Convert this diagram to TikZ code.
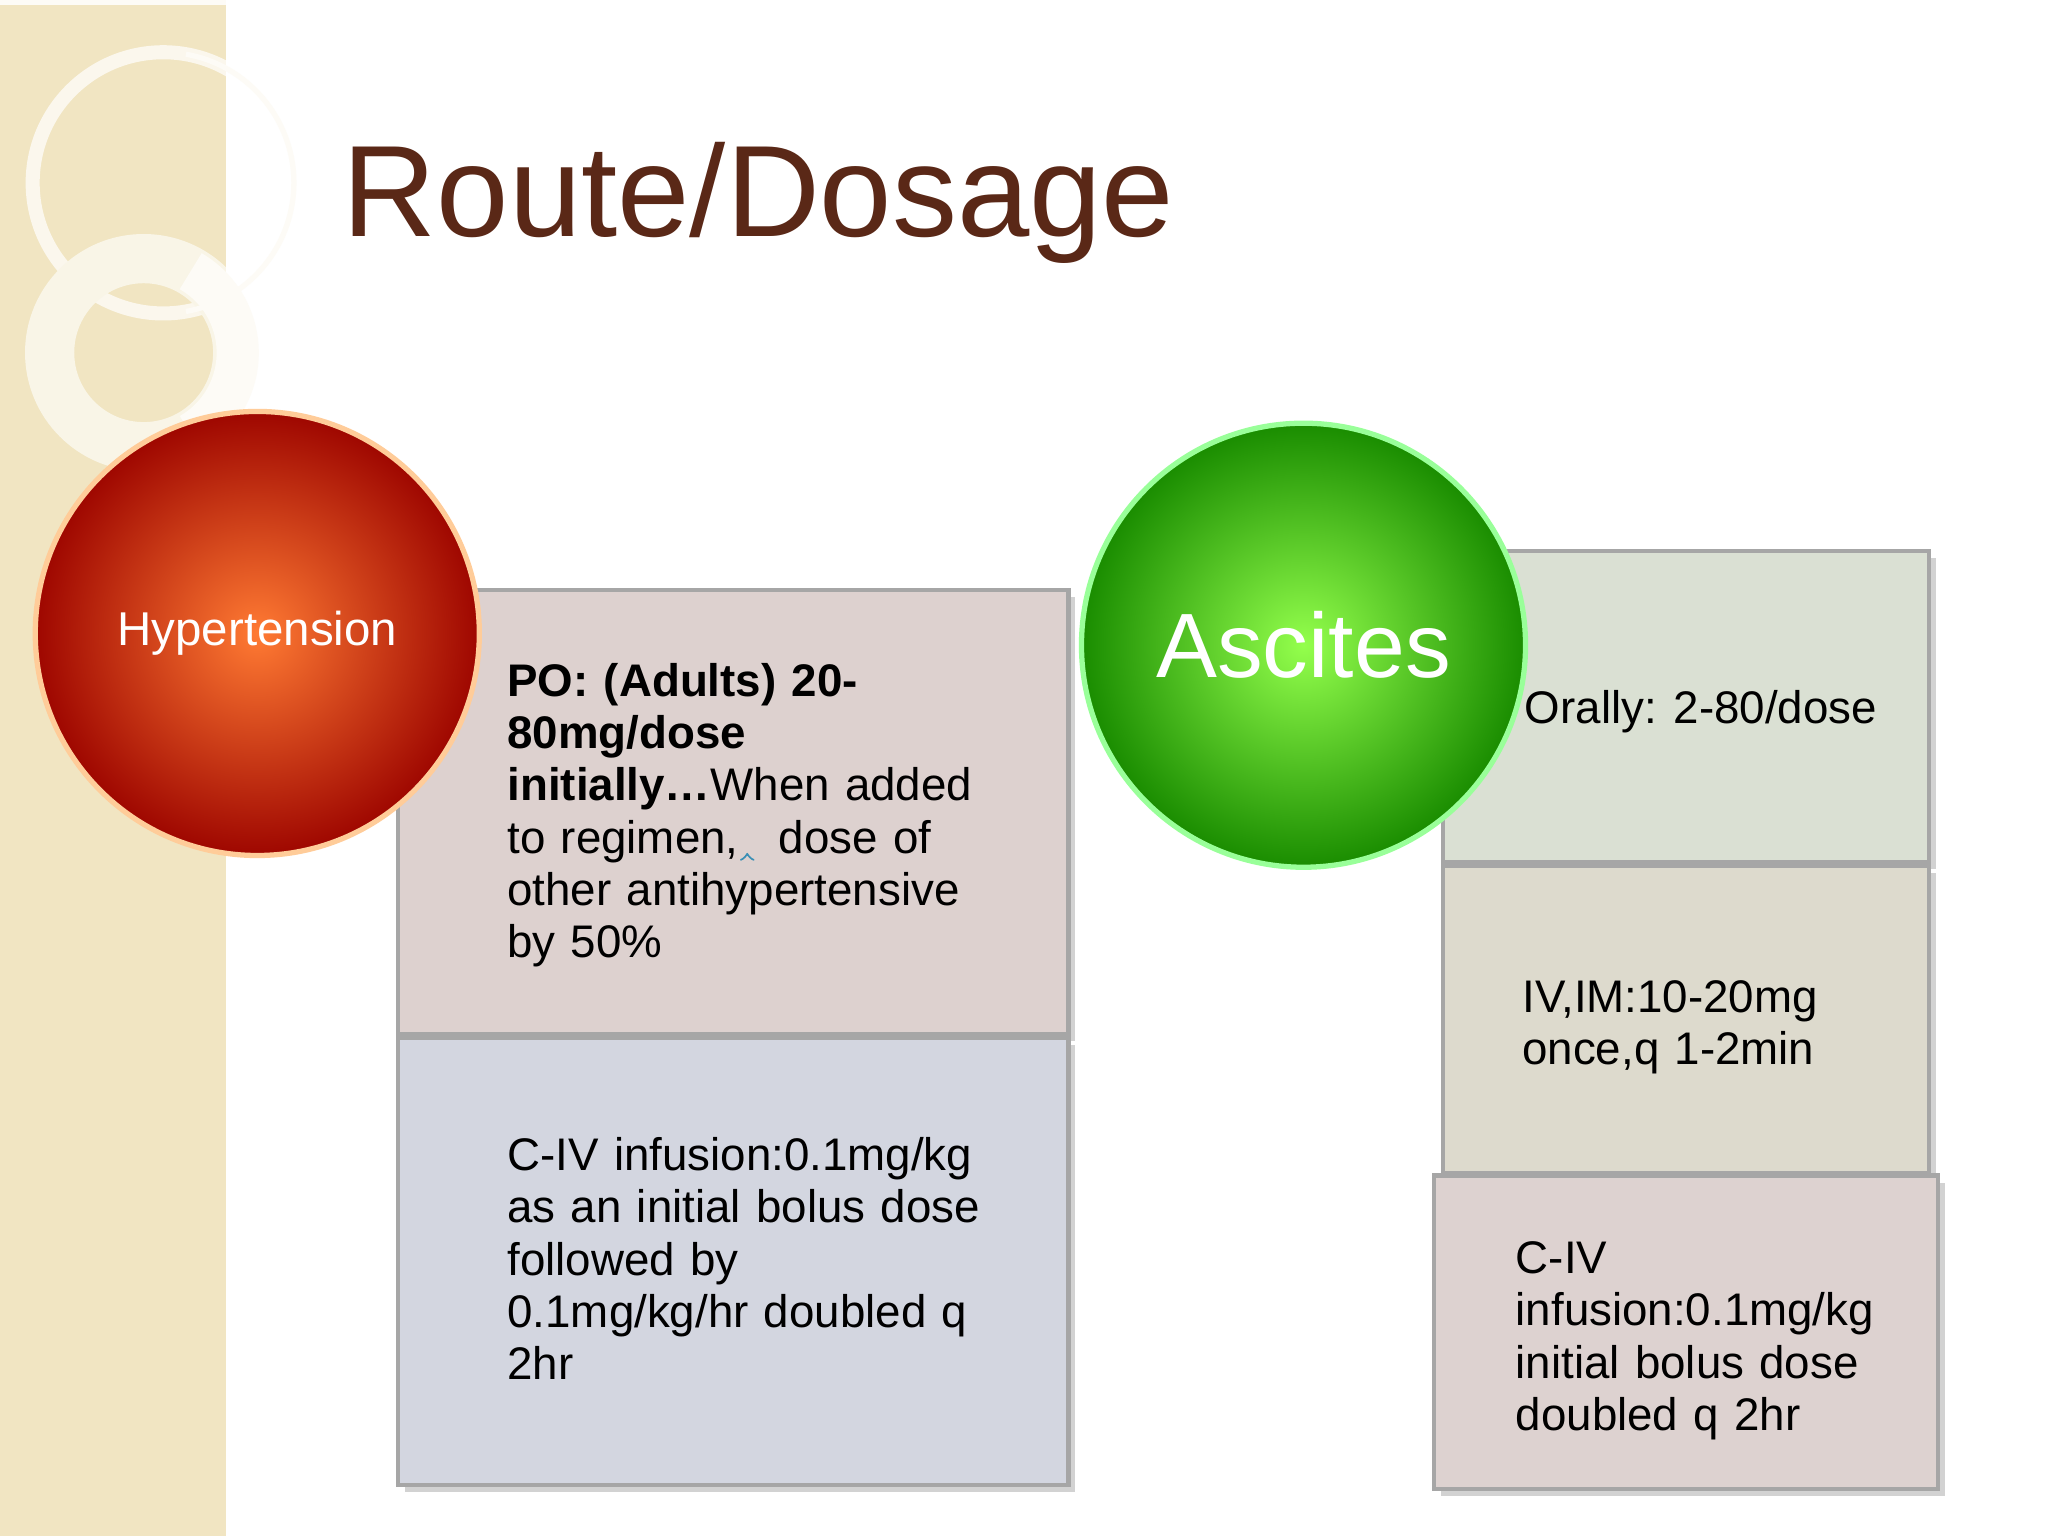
\documentclass[tikz,border=0pt]{standalone}
\usepackage{fontspec}
\setmainfont{Liberation Sans}
\usetikzlibrary{shadows}
\definecolor{strip}{HTML}{F1E5C2}
\definecolor{titlec}{HTML}{5A2817}
\definecolor{boxa}{HTML}{DDD1CF}
\definecolor{boxb}{HTML}{D3D6E0}
\definecolor{boxc}{HTML}{DAE0D3}
\definecolor{boxd}{HTML}{DDDACD}
\definecolor{boxe}{HTML}{DDD2D0}
\definecolor{arrowc}{HTML}{3A8FB5}
\tikzset{
 panel/.style={draw=gray!70, line width=1.2pt, drop shadow={opacity=0.35,shadow xshift=2pt,shadow yshift=-2pt}},
 btext/.style={anchor=base west, inner sep=0, align=left, font=\fontsize{13}{14.9}\selectfont},
}
\begin{document}
\begin{tikzpicture}[x=0.013061cm,y=-0.013061cm]
\useasboundingbox (0,0) rectangle (1568,1176);
\fill[white] (0,0) rectangle (1568,1176);
\fill[strip] (0,0) rectangle (173,1176);
\draw[white!85!strip, line width=3pt] (0,0) -- (173,0);
\begin{scope}
\clip (0,0) rectangle (173,1176);
\draw[white!70!strip, line width=4pt] (125,140) circle (100);
\draw[white!60!strip, line width=14pt] (110,270) circle (72);
\end{scope}
\draw[white!85!strip, line width=1.5pt] (125,140) ++(-80:100) arc (-80:80:100);
\draw[white!85!strip, line width=12pt] (110,270) ++(-60:72) arc (-60:60:72);
% title
\node[anchor=base west, inner sep=0, text=titlec, font=\fontsize{37}{40}\selectfont] (title) at (262,181) {Route/Dosage};
% left boxes
\draw[panel, fill=boxa] (305,452) rectangle (818,792);
\draw[panel, fill=boxb] (305,795) rectangle (818,1137);
\node[btext, text width=420] (t1) at (388,533) {\textbf{PO: (Adults) 20-\\80mg/dose\\initially\ldots}When added\\to regimen,\,\tikz[baseline=0pt]\draw[arrowc,->,line width=0.6pt] (0,0.35)--(0,-0.25);\ \ dose of\\other antihypertensive\\by 50\%};
\node[btext, text width=420] (t2) at (388,896) {C-IV infusion:0.1mg/kg\\as an initial bolus dose\\followed by\\0.1mg/kg/hr doubled q\\2hr};
% right boxes
\draw[panel, fill=boxc] (1105,422) rectangle (1477,660);
\draw[panel, fill=boxd] (1105,663) rectangle (1477,898);
\draw[panel, fill=boxe] (1098,900) rectangle (1484,1140);
\node[btext] (t3) at (1167,554) {Orally: 2-80/dose};
\node[btext, text width=300] (t4) at (1165,775) {IV,IM:10-20mg\\once,q 1-2min};
\node[btext, text width=320] (t5) at (1160,975) {C-IV\\infusion:0.1mg/kg\\initial bolus dose\\doubled q 2hr};
% circles
\shade[inner color=orange!70!red!80!white, outer color=red!60!black!95!orange, draw=orange!40!white, line width=1.5pt] (197,485) circle (170);
\node[text=white, font=\fontsize{13.5}{16}\selectfont] (hyp) at (197,485) {Hypertension};
\shade[inner color=green!60!yellow!70!white, outer color=green!50!black!90!yellow, draw=green!40!white, line width=1.5pt] (998,494) circle (170);
\node[text=white, font=\fontsize{26}{30}\selectfont] (asc) at (998,494) {Ascites};
\end{tikzpicture}
\end{document}
